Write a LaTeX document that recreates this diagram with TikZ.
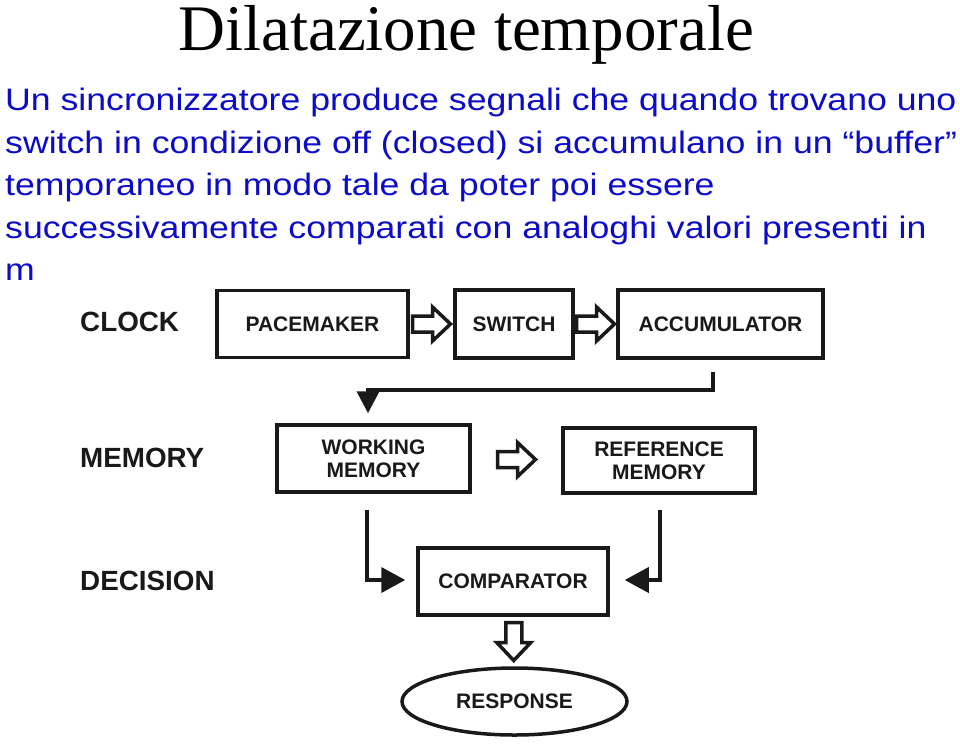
\documentclass[tikz,border=0pt]{standalone}
\usepackage{fontspec}
\setmainfont{Liberation Serif}
\setsansfont{Liberation Sans}
\usetikzlibrary{calc,shapes.geometric,arrows.meta}
\definecolor{txtblue}{RGB}{12,12,200}
\definecolor{ink}{RGB}{25,25,25}
\newcommand{\widen}[1]{\scalebox{1.15}[1]{#1}}
\begin{document}
\begin{tikzpicture}[x=1pt,y=-1pt,
  box/.style={draw=ink, line width=3.5pt, fill=white, inner sep=0pt, align=center,
    font=\fontsize{21}{23}\selectfont\sffamily\bfseries, text=ink},
  lab/.style={anchor=west, inner sep=0pt, font=\fontsize{27.8}{30}\selectfont\sffamily\bfseries, text=ink},
  bluetxt/.style={anchor=base west, inner sep=0pt, font=\fontsize{31}{33}\selectfont\sffamily, text=txtblue},
  conn/.style={draw=ink, line width=3.8pt},
  harrow/.pic={\draw[draw=ink, line width=3.5pt, fill=white, line join=miter]
     (-19,-8) -- (1,-8) -- (1,-17) -- (19,0) -- (1,17) -- (1,8) -- (-19,8) -- cycle;}]
\useasboundingbox (0,0) rectangle (960,748);
\fill[white] (0,0) rectangle (960,748);

% title and text
\node[font=\fontsize{65}{68}\selectfont, inner sep=0pt, anchor=base] (title) at (466,50) {Dilatazione temporale};
\node[bluetxt] (l1) at (5,110) {\widen{Un sincronizzatore produce segnali che quando trovano uno}};
\node[bluetxt] (l2) at (5,153) {\widen{switch in condizione off (closed) si accumulano in un “buffer”}};
\node[bluetxt] (l3) at (5,195) {\widen{temporaneo in modo tale da poter poi essere}};
\node[bluetxt] (l4) at (5,238) {\widen{successivamente comparati con analoghi valori presenti in}};
\begin{scope}
\clip (0,250) rectangle (33,300);
\node[bluetxt] (l5) at (5,280) {\widen{memoria}};
\end{scope}

% labels
\node[lab] (clock) at (80,322) {CLOCK};
\node[lab] (memory) at (80,458) {MEMORY};
\node[lab] (decision) at (80,581) {DECISION};

% boxes
\node[box, minimum width=191pt, minimum height=67pt] (pace) at (312.5,324) {PACEMAKER};
\node[box, minimum width=118pt, minimum height=68pt] (switch) at (514,324) {SWITCH};
\node[box, minimum width=205pt, minimum height=68pt] (accum) at (720.5,324) {ACCUMULATOR};
\node[box, minimum width=193pt, minimum height=67pt] (work) at (373.5,458.5) {WORKING\\MEMORY};
\node[box, minimum width=192pt, minimum height=65pt] (ref) at (659,460.5) {REFERENCE\\MEMORY};
\node[box, minimum width=190pt, minimum height=67pt] (comp) at (513,581.5) {COMPARATOR};
\node[box, ellipse, minimum width=225pt, minimum height=67pt] (resp) at (514.5,701.5) {RESPONSE};

% hollow arrows
\pic at ($(pace.east)!0.5!(switch.west)$) {harrow};
\pic at ($(switch.east)!0.5!(accum.west)$) {harrow};
\pic at ($(work.east)!0.5!(ref.west)$) {harrow};
\pic[rotate=-90] at ($(comp.south)!0.5!(resp.north)$) {harrow};

% connectors
\coordinate (fbstart) at ($(accum.south)+(-7.5,12)$);
\coordinate (fbend) at ($(work.north)+(-5.5,-10)$);
\draw[conn, -{Triangle[width=22pt,length=22pt]}] (fbstart) -- ++(0,18) -| (fbend);
\coordinate (wstart) at ($(work.south)+(-6.5,16)$);
\coordinate (cl) at ($(comp.west)+(-11,-1.5)$);
\draw[conn, -{Triangle[width=25pt,length=24pt]}] (wstart) |- (cl);
\coordinate (rstart) at ($(ref.south)+(1,15)$);
\coordinate (cr) at ($(comp.east)+(15,-1.5)$);
\draw[conn, -{Triangle[width=25pt,length=24pt]}] (rstart) |- (cr);
\end{tikzpicture}
\end{document}
